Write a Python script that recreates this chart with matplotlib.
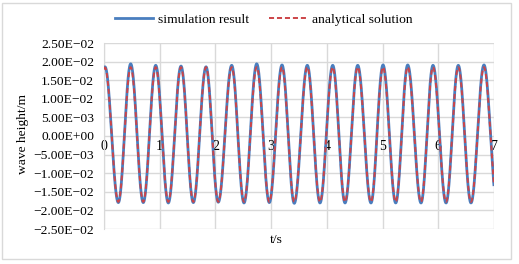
import numpy as np
import matplotlib
matplotlib.use('Agg')
import matplotlib.pyplot as plt
from matplotlib.patches import Rectangle
from matplotlib.lines import Line2D

# ---- data ----
peak_t = [0.018, 0.479, 0.928, 1.382, 1.831, 2.292, 2.741, 3.195,
          3.649, 4.105, 4.554, 5.008, 5.451, 5.905, 6.359, 6.820]
trough_t = [0.257, 0.705, 1.154, 1.603, 2.051, 2.513, 2.967, 3.415,
            3.877, 4.326, 4.792, 5.236, 5.690, 6.139, 6.587]
sim_peak = [0.0186, 0.0194, 0.0190, 0.0188, 0.0186, 0.0190, 0.0194, 0.0191,
            0.0190, 0.0190, 0.0190, 0.0191, 0.0191, 0.0190, 0.0190, 0.0191]
sim_trough = [-0.0179, -0.0179, -0.0180, -0.0179, -0.0178, -0.0180, -0.0179, -0.0181,
              -0.0180, -0.0180, -0.0180, -0.0180, -0.0180, -0.0180, -0.0180]
ana_peak = [0.0184, 0.0185, 0.0185, 0.0185, 0.0185, 0.0185, 0.0185, 0.0185,
            0.0185, 0.0185, 0.0185, 0.0185, 0.0185, 0.0185, 0.0185, 0.0185]
ana_trough = [-0.0177, -0.0177, -0.0177, -0.0177, -0.0177, -0.0177, -0.0177, -0.0177,
              -0.0177, -0.0177, -0.0177, -0.0177, -0.0177, -0.0177, -0.0177]
x_ticks = [0, 1, 2, 3, 4, 5, 6, 7]
y_ticks = [-0.025, -0.02, -0.015, -0.01, -0.005, 0.0, 0.005, 0.01, 0.015, 0.02, 0.025]
series_names = ["simulation result", "analytical solution"]


def wave_curve(pt, pv, tt, tv, n=4000):
    """Join the read crests and troughs with half-cosine shaped segments."""
    et = []
    ev = []
    for i in range(len(pt)):
        et.append(pt[i]); ev.append(pv[i])
        if i < len(tt):
            et.append(tt[i]); ev.append(tv[i])
    # one half-wave beyond each end, mirrored from the neighbouring half-wave
    et = [et[0] - (et[1] - et[0])] + et + [et[-1] + (et[-1] - et[-2])]
    ev = [ev[1]] + ev + [ev[-2]]
    et = np.array(et); ev = np.array(ev)
    t = np.linspace(0, 7, n)
    idx = np.clip(np.searchsorted(et, t) - 1, 0, len(et) - 2)
    t0, t1 = et[idx], et[idx + 1]
    v0, v1 = ev[idx], ev[idx + 1]
    ph = (t - t0) / (t1 - t0)
    y = (v0 + v1) / 2 + (v0 - v1) / 2 * np.cos(np.pi * ph)
    return t, y


plt.rcParams['font.family'] = ['Liberation Serif', 'DejaVu Serif']
FS = 9.7

fig = plt.figure(figsize=(5.19, 2.64), dpi=100)
fig.patches.append(Rectangle((2 / 519, 5 / 264), 509 / 519, 256 / 264,
                             transform=fig.transFigure, fill=False,
                             edgecolor='#d9d9d9', linewidth=1.0))

ax = fig.add_axes([104 / 519, (264 - 229) / 264, 390 / 519, 186 / 264])

ts, ys = wave_curve(peak_t, sim_peak, trough_t, sim_trough)
ta, ya = wave_curve(peak_t, ana_peak, trough_t, ana_trough)
blue = '#4a7ebf'
red = '#cc4448'
ax.plot(ts, ys, color=blue, lw=2.0, solid_capstyle='butt', zorder=3)
ax.plot(ta, ya, color=red, lw=1.4, linestyle=(0, (2.6, 1.5)), zorder=4)

ax.set_xlim(0, 7)
ax.set_ylim(-0.025, 0.025)
ax.set_xticks(x_ticks)
ax.set_xticklabels([str(v) for v in x_ticks], fontsize=FS)
ax.set_yticks(y_ticks)
ax.set_yticklabels([f"{v:.2E}".replace('-', '\u2212') for v in y_ticks], fontsize=FS)

ax.grid(True, color='#d9d9d9', linewidth=1.0, zorder=0)
ax.set_axisbelow(True)
for s in ['top', 'right']:
    ax.spines[s].set_visible(False)
ax.spines['left'].set_color('#d9d9d9')
ax.spines['bottom'].set_position(('data', 0))
ax.spines['bottom'].set_visible(False)
ax.tick_params(axis='x', length=0, pad=3)
ax.tick_params(axis='y', length=0, pad=7)

fig.text(23 / 519, 1 - 134 / 264, 'wave height/m', rotation=90,
         ha='center', va='center', fontsize=FS)
fig.text(276 / 519, 1 - 240 / 264, 't/s', ha='center', va='center', fontsize=FS)

handles = [Line2D([], [], color=blue, lw=2.0),
           Line2D([], [], color=red, lw=1.4, linestyle=(0, (2.6, 1.5)))]
fig.legend(handles, series_names, loc='center', bbox_to_anchor=(264 / 519, 1 - 20 / 264),
           ncol=2, frameon=False, fontsize=FS, handlelength=2.8,
           handletextpad=0.4, columnspacing=1.5)

fig.savefig('out.png', dpi=100)
